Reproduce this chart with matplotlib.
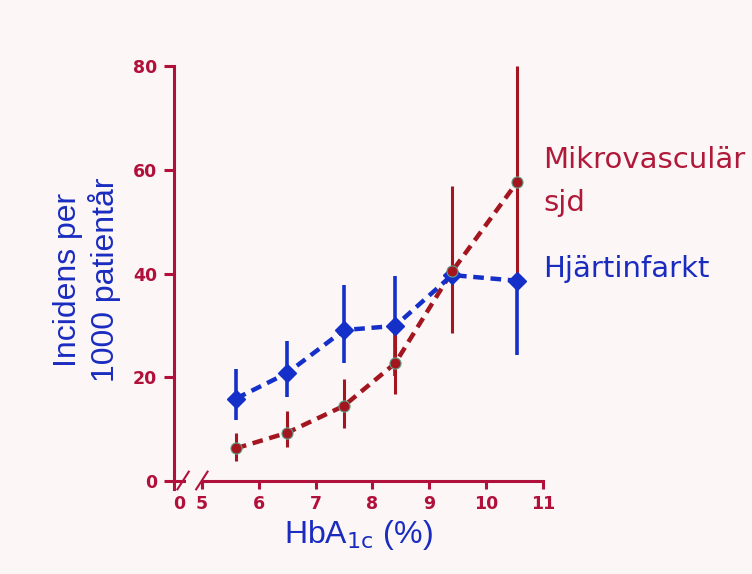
import numpy as np
import matplotlib
matplotlib.use("Agg")
import matplotlib.pyplot as plt

plt.rcParams['font.family'] = ['Liberation Sans', 'DejaVu Sans']

# HbA1c classes (%)
hba1c = [5.6, 6.5, 7.5, 8.4, 9.4, 10.55]

# Hjärtinfarkt (blue)
mi_rate = [15.9, 20.8, 29.1, 29.9, 39.7, 38.6]
mi_low = [11.8, 16.1, 22.7, 20.3, 39.7, 24.3]
mi_high = [21.5, 27.0, 37.7, 39.6, 39.7, 38.6]

# Mikrovasculär sjd (red)
micro_rate = [6.3, 9.3, 14.5, 22.7, 40.4, 57.7]
micro_low = [3.9, 6.6, 10.3, 16.7, 28.5, 38.6]
micro_high = [9.3, 13.4, 19.7, 29.9, 56.8, 80.0]

xticks = [5, 6, 7, 8, 9, 10, 11]
yticks = [0, 20, 40, 60, 80]

bg = '#fcf6f6'
axis_col = '#b0103a'
red = '#a3161f'
blue = '#1530c8'
blue_txt = '#1a2cc0'
red_txt = '#b01a3a'

fig = plt.figure(figsize=(7.52, 5.74), dpi=100, facecolor=bg)
ax = fig.add_axes([0.2314, 0.162, 0.4907, 0.723], facecolor=bg)

x = np.array(hba1c)
mi = np.array(mi_rate)
mc = np.array(micro_rate)

# error bars
ax.vlines(x, mi_low, mi_high, color=blue, lw=2.6, zorder=2)
ax.vlines(x, micro_low, micro_high, color=red, lw=2.2, zorder=2)

# dashed lines + markers
ax.plot(x, mc, color=red, lw=3.2, dashes=(2.4, 1.5), zorder=3)
ax.plot(x, mi, color=blue, lw=3.2, dashes=(2.4, 1.5), zorder=3)
ax.plot(x, mi, ls='none', marker='D', ms=9, color=blue, zorder=4)
ax.plot(x, mc, ls='none', marker='o', ms=8, color=red,
        markeredgecolor='#5fa38a', markeredgewidth=0.8, zorder=5)

ax.set_xlim(4.51, 11.0)
ax.set_ylim(0, 80)

for s in ['top', 'right', 'bottom']:
    ax.spines[s].set_visible(False)
ax.spines['left'].set_color(axis_col)
ax.spines['left'].set_linewidth(2.2)
ax.spines['left'].set_bounds(-1.5, 80)

# broken x axis
ax.plot([4.51, 4.68], [0, 0], color=axis_col, lw=2.2, clip_on=False, zorder=1)
ax.plot([5.0, 11.0], [0, 0], color=axis_col, lw=2.2, clip_on=False, zorder=1)
for xc in [4.67, 5.0]:
    ax.plot([xc - 0.1, xc + 0.1], [-1.6, 1.8], color=axis_col, lw=1.5, clip_on=False)

ax.set_yticks(yticks)
ax.set_yticklabels([str(v) for v in yticks])
ax.set_xticks([4.6] + xticks)
ax.set_xticklabels(['0'] + [str(v) for v in xticks])
ax.tick_params(axis='y', colors=axis_col, length=7, width=2.2, pad=5)
ax.tick_params(axis='x', colors=axis_col, length=6, width=2.2, pad=4)
ax.xaxis.get_major_ticks()[0].tick1line.set_visible(False)
for lab in ax.get_xticklabels() + ax.get_yticklabels():
    lab.set_fontweight('bold')
    lab.set_family('DejaVu Sans')
    lab.set_fontsize(12.5)

ax.set_xlabel('HbA$_{1\\mathrm{c}}$ (%)', fontsize=23, color=blue_txt, labelpad=4)
fig.text(87 / 752, 1 - 280 / 574, 'Incidens per\n1000 patientår',
         rotation=90, ha='center', va='center', fontsize=23, color=blue_txt,
         linespacing=1.2)

ax.text(11.0, 60.4, 'Mikrovasculär', fontsize=21, color=red_txt, family='DejaVu Sans',
        ha='left', va='baseline', clip_on=False)
ax.text(11.0, 52.1, 'sjd', fontsize=21, color=red_txt, family='DejaVu Sans',
        ha='left', va='baseline', clip_on=False)
ax.text(11.0, 39.3, 'Hjärtinfarkt', fontsize=21, color=blue_txt, family='DejaVu Sans',
        ha='left', va='baseline', clip_on=False)

fig.savefig('out.png', dpi=100, facecolor=bg)
